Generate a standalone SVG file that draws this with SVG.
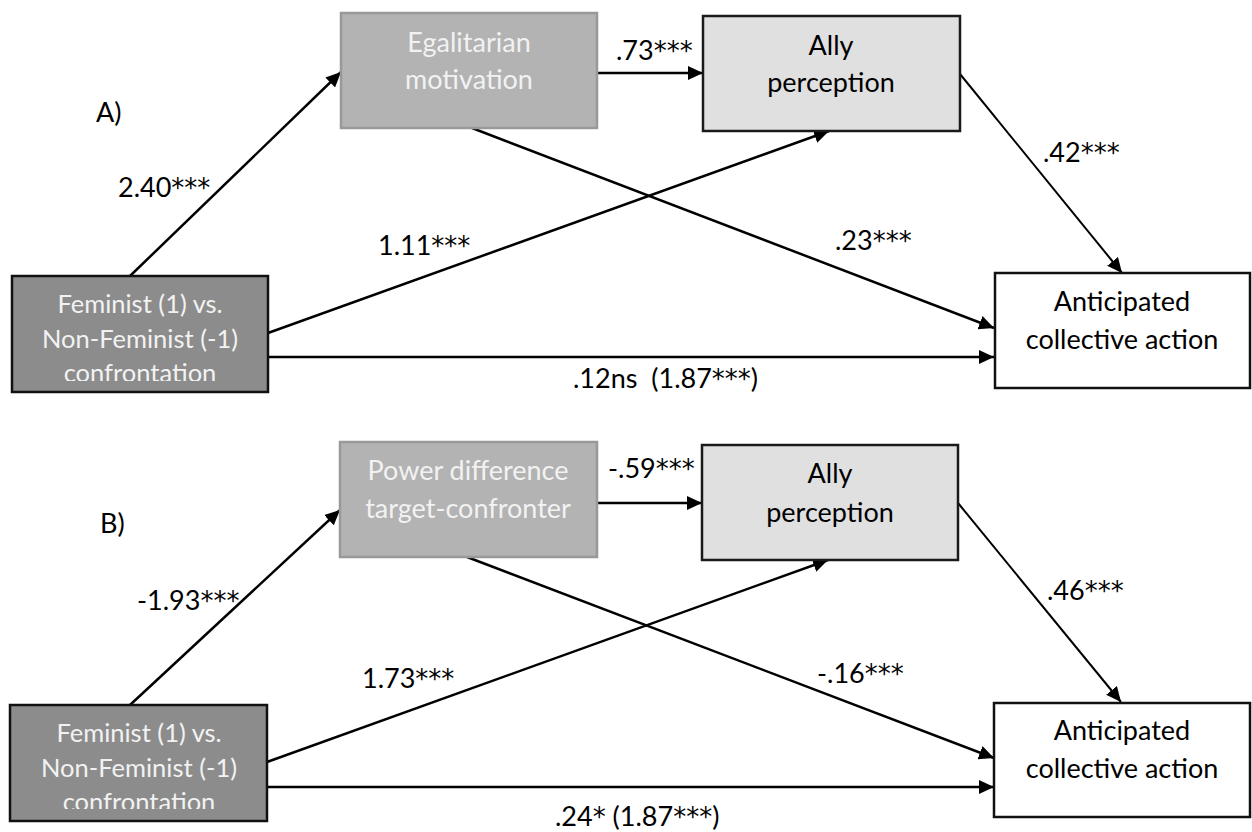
<svg xmlns="http://www.w3.org/2000/svg" width="1252" height="832" viewBox="0 0 1252 832">
<style>
text{font-family:Lato,"Liberation Sans",sans-serif;font-size:27px;}
.lbl{fill:#000;}
.ast{font-family:"DejaVu Sans",sans-serif;font-size:26px;}
.ctr{text-anchor:middle;}
.wt{fill:#f2f2f2;}
.bk{fill:#000;}
.fem{font-size:25.5px;}
.xbox{fill:#8c8c8c;stroke:#111;stroke-width:2.5;}
.mbox{fill:#b3b3b3;stroke:#999;stroke-width:2.5;}
.abox{fill:#e0e0e0;stroke:#1a1a1a;stroke-width:2.5;}
.ybox{fill:#fff;stroke:#111;stroke-width:2.5;}
.ln{stroke:#000;stroke-width:2.5;fill:none;marker-end:url(#ah);}
.ln2{stroke:#000;stroke-width:2;fill:none;marker-end:url(#ah);}
</style>
<defs>
<marker id="ah" markerUnits="userSpaceOnUse" markerWidth="16" markerHeight="14" refX="15" refY="7" orient="auto">
<path d="M0,0 L15,7 L0,14 z" fill="#000"/>
</marker>
<clipPath id="clipA"><rect x="12" y="276" width="256" height="105"/></clipPath>
<clipPath id="clipB"><rect x="10" y="705" width="257" height="104"/></clipPath>
</defs>
<rect width="1252" height="832" fill="#fff"/>

<g id="connectors">
<line class="ln" x1="130" y1="276" x2="341" y2="72"/>
<line class="ln" x1="597" y1="73" x2="703" y2="73"/>
<line class="ln" x1="472" y1="128" x2="994" y2="328"/>
<line class="ln" x1="268" y1="333" x2="829" y2="131"/>
<line class="ln" x1="268" y1="357" x2="994" y2="357"/>
<line class="ln2" x1="960" y1="74" x2="1122" y2="273"/>

<line class="ln" x1="130" y1="705" x2="340" y2="510"/>
<line class="ln" x1="597" y1="503" x2="702" y2="503"/>
<line class="ln" x1="467" y1="557" x2="994" y2="758"/>
<line class="ln" x1="267" y1="762" x2="828" y2="560"/>
<line class="ln" x1="267" y1="787" x2="994" y2="787"/>
<line class="ln2" x1="958" y1="503" x2="1121" y2="702"/>
</g>

<g id="labels">
<text class="lbl" x="96" y="122">A)</text>
<text class="lbl" x="118" y="197">2.40<tspan class="ast">***</tspan></text>
<text class="lbl" x="616" y="60">.73<tspan class="ast">***</tspan></text>
<text class="lbl" x="378" y="255">1.11<tspan class="ast">***</tspan></text>
<text class="lbl" x="1043" y="162">.42<tspan class="ast">***</tspan></text>
<text class="lbl" x="835" y="250">.23<tspan class="ast">***</tspan></text>
<text class="lbl" x="573" y="388" xml:space="preserve">.12ns  (1.87<tspan class="ast">***</tspan>)</text>

<text class="lbl" x="100" y="533">B)</text>
<text class="lbl" x="137" y="610">-1.93<tspan class="ast">***</tspan></text>
<text class="lbl" x="608" y="478">-.59<tspan class="ast">***</tspan></text>
<text class="lbl" x="362" y="688">1.73<tspan class="ast">***</tspan></text>
<text class="lbl" x="1047" y="600">.46<tspan class="ast">***</tspan></text>
<text class="lbl" x="817" y="683">-.16<tspan class="ast">***</tspan></text>
<text class="lbl" x="555" y="826">.24<tspan class="ast">*</tspan> (1.87<tspan class="ast">***</tspan>)</text>
</g>

<g id="nodeA_feminist">
<rect class="xbox" x="12" y="276" width="256" height="116"/>
<g clip-path="url(#clipA)">
<text class="wt ctr fem" x="140" y="313">Feminist (1) vs.</text>
<text class="wt ctr fem" x="140" y="348">Non-Feminist (-1)</text>
<text class="wt ctr fem" x="140" y="382">confrontation</text>
</g>
</g>
<g id="nodeA_egalitarian">
<rect class="mbox" x="341" y="13" width="256" height="115"/>
<text class="wt ctr" x="469" y="52">Egalitarian</text>
<text class="wt ctr" x="469" y="89">motivation</text>
</g>
<g id="nodeA_ally">
<rect class="abox" x="703" y="16" width="257" height="115"/>
<text class="bk ctr" x="831" y="55">Ally</text>
<text class="bk ctr" x="831" y="92">perception</text>
</g>
<g id="nodeA_action">
<rect class="ybox" x="995" y="273" width="255" height="115"/>
<text class="bk ctr" x="1122" y="311">Anticipated</text>
<text class="bk ctr" x="1122" y="349">collective action</text>
</g>

<g id="nodeB_feminist">
<rect class="xbox" x="10" y="705" width="257" height="116"/>
<g clip-path="url(#clipB)">
<text class="wt ctr fem" x="139" y="742">Feminist (1) vs.</text>
<text class="wt ctr fem" x="139" y="777">Non-Feminist (-1)</text>
<text class="wt ctr fem" x="139" y="811">confrontation</text>
</g>
</g>
<g id="nodeB_power">
<rect class="mbox" x="340" y="442" width="257" height="115"/>
<text class="wt ctr" x="468" y="480">Power difference</text>
<text class="wt ctr" x="468" y="518">target-confronter</text>
</g>
<g id="nodeB_ally">
<rect class="abox" x="702" y="445" width="256" height="115"/>
<text class="bk ctr" x="830" y="483">Ally</text>
<text class="bk ctr" x="830" y="522">perception</text>
</g>
<g id="nodeB_action">
<rect class="ybox" x="994" y="703" width="256" height="114"/>
<text class="bk ctr" x="1122" y="740">Anticipated</text>
<text class="bk ctr" x="1122" y="778">collective action</text>
</g>
</svg>
